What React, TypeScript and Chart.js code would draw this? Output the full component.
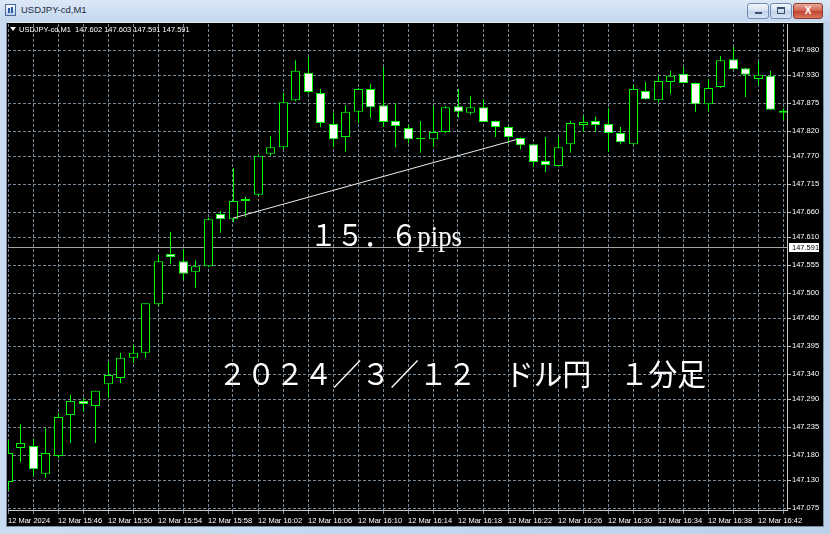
import React, { useEffect, useRef } from "react";
import { Chart, registerables } from "chart.js";

Chart.register(...registerables);

const SYMBOL = "USDJPY-cd,M1";
const HEADER_VALUES = ["147.602", "147.603", "147.591", "147.591"];

// one label every 4 one-minute candles (index 0, 4, 8, ...)
const X_LABELS = [
  "12 Mar 2024", "12 Mar 15:46", "12 Mar 15:50", "12 Mar 15:54", "12 Mar 15:58",
  "12 Mar 16:02", "12 Mar 16:06", "12 Mar 16:10", "12 Mar 16:14", "12 Mar 16:18",
  "12 Mar 16:22", "12 Mar 16:26", "12 Mar 16:30", "12 Mar 16:34", "12 Mar 16:38",
  "12 Mar 16:42",
];

const Y_TICKS = [
  147.98, 147.93, 147.875, 147.82, 147.77, 147.715, 147.66, 147.61, 147.555,
  147.5, 147.45, 147.395, 147.34, 147.29, 147.235, 147.18, 147.13, 147.075,
];

const OPEN = [
  147.127, 147.194, 147.198, 147.143, 147.178, 147.259, 147.287, 147.277, 147.320, 147.332,
  147.372, 147.382, 147.478, 147.577, 147.563, 147.542, 147.553, 147.656, 147.646, 147.682,
  147.694, 147.775, 147.788, 147.881, 147.935, 147.895, 147.834, 147.808, 147.858, 147.903,
  147.871, 147.840, 147.826, 147.804, 147.804, 147.818, 147.869, 147.856, 147.867, 147.840,
  147.828, 147.806, 147.794, 147.761, 147.751, 147.794, 147.832, 147.840, 147.834, 147.816,
  147.794, 147.899, 147.881, 147.917, 147.933, 147.915, 147.873, 147.907, 147.962, 147.944,
  147.923, 147.929, 147.860,
];
const HIGH = [
  147.210, 147.241, 147.212, 147.233, 147.263, 147.299, 147.293, 147.307, 147.364, 147.382,
  147.397, 147.480, 147.575, 147.621, 147.587, 147.565, 147.648, 147.662, 147.747, 147.690,
  147.773, 147.810, 147.895, 147.960, 147.966, 147.903, 147.856, 147.871, 147.905, 147.913,
  147.946, 147.875, 147.832, 147.840, 147.869, 147.869, 147.903, 147.889, 147.883, 147.841,
  147.829, 147.807, 147.795, 147.808, 147.808, 147.840, 147.850, 147.848, 147.865, 147.828,
  147.911, 147.917, 147.929, 147.939, 147.946, 147.916, 147.923, 147.968, 147.986, 147.945,
  147.958, 147.939, 147.865,
];
const LOW = [
  147.111, 147.166, 147.139, 147.135, 147.174, 147.204, 147.265, 147.204, 147.293, 147.322,
  147.362, 147.372, 147.474, 147.557, 147.526, 147.510, 147.551, 147.619, 147.640, 147.650,
  147.692, 147.771, 147.784, 147.879, 147.895, 147.828, 147.788, 147.779, 147.836, 147.846,
  147.828, 147.788, 147.796, 147.777, 147.788, 147.816, 147.846, 147.852, 147.838, 147.808,
  147.796, 147.784, 147.749, 147.739, 147.751, 147.777, 147.818, 147.818, 147.779, 147.794,
  147.793, 147.882, 147.877, 147.893, 147.915, 147.858, 147.860, 147.905, 147.942, 147.887,
  147.911, 147.862, 147.842,
];
const CLOSE = [
  147.184, 147.204, 147.152, 147.184, 147.255, 147.287, 147.281, 147.307, 147.338, 147.372,
  147.382, 147.480, 147.563, 147.571, 147.538, 147.553, 147.646, 147.646, 147.682, 147.686,
  147.771, 147.788, 147.877, 147.939, 147.897, 147.836, 147.804, 147.858, 147.903, 147.867,
  147.838, 147.830, 147.804, 147.806, 147.818, 147.867, 147.858, 147.867, 147.838, 147.828,
  147.808, 147.792, 147.759, 147.753, 147.788, 147.836, 147.838, 147.832, 147.816, 147.798,
  147.903, 147.883, 147.919, 147.929, 147.915, 147.873, 147.905, 147.960, 147.942, 147.931,
  147.931, 147.862, 147.856,
];

const BID = 147.591;
const TREND_X = [18, 40.8];
const TREND_Y = [147.648, 147.804];

const NOTE_PIPS = "１５．６pips";
const NOTE_PIPS_SPAN = [24.16, 36.32];
const NOTE_PIPS_BASE = 147.592;
const NOTE_TITLE = "２０２４／３／１２　ドル円　１分足";
const NOTE_TITLE_SPAN = [16.8, 55.84];
const NOTE_TITLE_BASE = 147.318;

const X_MIN = 0;
const X_MAX = 62.32;
const HALF_PX_SHIFT = 0.04; // shifts even candles by half a pixel so they render crisply
const Y_MIN = 147.0715;
const Y_MAX = 148.0314;

const AXIS_FONT = { family: "'Liberation Sans', Arial, sans-serif", size: 7.5 };
const UP_COLOR = "#00ff00";

function drawFitted(ctx: CanvasRenderingContext2D, text: string, x0: number, x1: number, base: number, font: string) {
  ctx.save();
  ctx.font = font;
  ctx.fillStyle = "#ffffff";
  ctx.textBaseline = "alphabetic";
  ctx.textAlign = "left";
  const w = ctx.measureText(text).width;
  ctx.translate(x0, base);
  ctx.scale((x1 - x0) / w, 1);
  ctx.fillText(text, 0, 0);
  ctx.restore();
}

const overlay = {
  id: "mtOverlay",
  beforeDatasetsDraw(chart: any) {
    const { ctx, chartArea: a, scales } = chart;
    const py = Math.round(scales.y.getPixelForValue(BID)) + 0.5;
    ctx.save();
    ctx.strokeStyle = "#a3a3a3";
    ctx.lineWidth = 1;
    ctx.beginPath();
    ctx.moveTo(a.left, py);
    ctx.lineTo(a.right, py);
    ctx.stroke();
    ctx.restore();
  },
  afterDatasetsDraw(chart: any) {
    const { ctx, scales } = chart;
    const { x, y } = scales;
    drawFitted(ctx, NOTE_PIPS, x.getPixelForValue(NOTE_PIPS_SPAN[0]), x.getPixelForValue(NOTE_PIPS_SPAN[1]),
      y.getPixelForValue(NOTE_PIPS_BASE), '30px "Liberation Serif", "Noto Sans CJK JP", serif');
    drawFitted(ctx, NOTE_TITLE, x.getPixelForValue(NOTE_TITLE_SPAN[0]), x.getPixelForValue(NOTE_TITLE_SPAN[1]),
      y.getPixelForValue(NOTE_TITLE_BASE), '30px "Liberation Serif", "Noto Sans CJK JP", serif');
  },
  afterDraw(chart: any) {
    const { ctx, chartArea: a, scales } = chart;
    const py = Math.round(scales.y.getPixelForValue(BID));
    ctx.save();
    ctx.fillStyle = "#ffffff";
    ctx.fillRect(a.right + 2, py - 4, 30, 9);
    ctx.fillStyle = "#000000";
    ctx.font = "7.5px 'Liberation Sans', Arial, sans-serif";
    ctx.textBaseline = "middle";
    ctx.textAlign = "left";
    ctx.fillText(BID.toFixed(3), a.right + 5, py + 0.5);
    ctx.fillStyle = "#ffffff";
    ctx.beginPath();
    ctx.moveTo(a.left + 2, 27);
    ctx.lineTo(a.left + 8, 27);
    ctx.lineTo(a.left + 5, 31);
    ctx.closePath();
    ctx.fill();
    ctx.textBaseline = "alphabetic";
    ctx.fillText(SYMBOL + "  " + HEADER_VALUES.join(" "), a.left + 11, 32);
    ctx.restore();
  },
};

function candleSets(indices: number[], axis: string, order: number) {
  return [
    {
      type: "bar",
      xAxisID: axis,
      data: indices.map((i) => ({ x: i, y: [OPEN[i], CLOSE[i]] })),
      backgroundColor: indices.map((i) => (CLOSE[i] >= OPEN[i] ? "#000000" : "#ffffff")),
      borderColor: UP_COLOR,
      borderWidth: 1,
      borderSkipped: false,
      barThickness: 9,
      grouped: false,
      inflateAmount: 0,
      order,
    },
    {
      type: "bar",
      xAxisID: axis,
      data: indices.map((i) => ({ x: i, y: [LOW[i], HIGH[i]] })),
      backgroundColor: UP_COLOR,
      borderWidth: 0,
      barThickness: 1,
      grouped: false,
      inflateAmount: 0,
      order: order + 10,
    },
  ];
}

export default function App() {
  const ref = useRef<HTMLCanvasElement>(null);

  useEffect(() => {
    if (!ref.current) return;
    const idx = OPEN.map((_, i) => i);
    const odd = idx.filter((i) => i % 2 === 1);
    const even = idx.filter((i) => i % 2 === 0);

    const chart = new Chart(ref.current, {
      type: "bar",
      data: {
        datasets: [
          {
            type: "line",
            data: TREND_X.map((x, i) => ({ x, y: TREND_Y[i] })),
            borderColor: "#eeeeee",
            borderWidth: 1,
            pointRadius: 0,
            fill: false,
            order: 0,
          },
          ...candleSets(odd, "x", 1),
          ...candleSets(even, "xe", 2),
        ] as any,
      },
      options: {
        responsive: false,
        animation: false,
        devicePixelRatio: 1,
        events: [],
        layout: { padding: { left: 8, top: 24, right: 7, bottom: 7 } },
        plugins: { legend: { display: false }, tooltip: { enabled: false } },
        scales: {
          x: {
            type: "linear",
            min: X_MIN,
            max: X_MAX,
            offset: false,
            afterFit: (s: any) => { s.height = 17; },
            afterBuildTicks: (s: any) => {
              const t = [];
              for (let i = 0; i <= 62; i += 2) t.push({ value: i });
              s.ticks = t;
            },
            grid: { color: "#778899", lineWidth: 1, offset: false, drawTicks: true, tickLength: 4, tickColor: "#778899" },
            border: { display: true, color: "#c8c8c8", dash: [3, 2] },
            ticks: {
              autoSkip: false,
              maxRotation: 0,
              minRotation: 0,
              align: "start",
              padding: 2,
              color: "#ffffff",
              font: AXIS_FONT,
              callback: (v: any) => (Number(v) % 4 === 0 ? X_LABELS[Number(v) / 4] ?? "" : ""),
            },
          },
          xe: {
            type: "linear",
            display: false,
            min: X_MIN - HALF_PX_SHIFT,
            max: X_MAX - HALF_PX_SHIFT,
            offset: false,
          },
          y: {
            type: "linear",
            position: "right",
            min: Y_MIN,
            max: Y_MAX,
            afterFit: (s: any) => { s.width = 36; },
            afterBuildTicks: (s: any) => { s.ticks = Y_TICKS.map((v) => ({ value: v })); },
            grid: { color: "#778899", lineWidth: 1, drawTicks: true, tickLength: 4, tickColor: "#c8c8c8" },
            border: { display: true, color: "#c8c8c8", dash: [3, 2] },
            ticks: {
              autoSkip: false,
              padding: 1,
              color: "#ffffff",
              font: AXIS_FONT,
              callback: (v: any) => Number(v).toFixed(3),
            },
          },
        },
      } as any,
      plugins: [overlay as any],
    });
    return () => chart.destroy();
  }, []);

  const btn: React.CSSProperties = {
    position: "absolute",
    top: 3,
    height: 16,
    boxSizing: "border-box",
    border: "1px solid #6f8db3",
    borderRadius: 3,
    background: "linear-gradient(#f2f6fb, #d2e0f0 50%, #bfd2ea 51%, #d6e4f3)",
  };

  return (
    <div style={{ position: "fixed", left: 0, top: 0, width: 830, height: 534, overflow: "hidden",
      background: "linear-gradient(90deg, #c9dcf1, #bcd2ec)" }}>
      <div style={{ position: "absolute", left: 0, top: 0, width: 830, height: 22,
        background: "linear-gradient(#dce8f6, #c3d7ee)" }} />
      <div style={{ position: "absolute", left: 5, top: 4, width: 11, height: 12, boxSizing: "border-box",
        border: "1px solid #4a6c9a", background: "linear-gradient(#ffffff, #b8cce6)" }}>
        <div style={{ position: "absolute", left: 2, top: 3, width: 2, height: 5, background: "#2a5aa8" }} />
        <div style={{ position: "absolute", left: 5, top: 2, width: 2, height: 6, background: "#2a5aa8" }} />
      </div>
      <div style={{ position: "absolute", left: 21, top: 3, font: "9.5px 'Liberation Sans', Arial, sans-serif",
        color: "#1b2b3f", lineHeight: "14px" }}>{SYMBOL}</div>
      <div style={{ ...btn, left: 747, width: 22 }}>
        <div style={{ position: "absolute", left: 7, top: 8, width: 7, height: 2, background: "#3b4f6b" }} />
      </div>
      <div style={{ ...btn, left: 770, width: 22 }}>
        <div style={{ position: "absolute", left: 6, top: 3, width: 8, height: 7, boxSizing: "border-box",
          border: "1px solid #3b4f6b", borderTop: "2px solid #3b4f6b" }} />
      </div>
      <div style={{ ...btn, left: 793, width: 30, border: "1px solid #8a3a30",
        background: "linear-gradient(#e9a99b, #d0604c 50%, #c2412d 51%, #d8775f)" }}>
        <div style={{ position: "absolute", left: 0, top: 0, width: 28, height: 14, color: "#ffffff",
          font: "bold 10px 'Liberation Sans', Arial, sans-serif", textAlign: "center", lineHeight: "14px" }}>X</div>
      </div>
      <div style={{ position: "absolute", left: 6, top: 22, width: 818, height: 505, boxSizing: "border-box",
        background: "#000000", border: "1px solid #7d8ea3", borderTopColor: "#e6edf5" }} />
      <canvas ref={ref} width={830} height={534} style={{ position: "absolute", left: 0, top: 0, width: 830, height: 534 }} />
    </div>
  );
}
